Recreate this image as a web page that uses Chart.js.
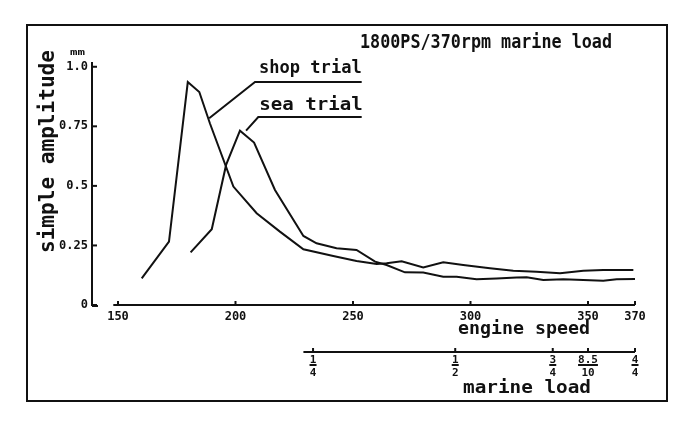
<!DOCTYPE html>
<html>
<head>
<meta charset="utf-8">
<title>1800PS/370rpm marine load</title>
<script src="https://cdn.jsdelivr.net/npm/chart.js@4.4.1/dist/chart.umd.min.js"></script>
<style>
  html, body { margin: 0; padding: 0; background: #fff; }
  #wrap { width: 689px; height: 427px; }
</style>
</head>
<body>
<div id="wrap"><canvas id="chart" width="689" height="427"></canvas></div>
<script>
const ink = '#111';
const mono = '"DejaVu Sans Mono", "Liberation Mono", monospace';

const speedTicks = [150, 200, 250, 300, 350, 370];
const ampTicks = [0, 0.25, 0.5, 0.75, 1.0];
const ampTickLabels = ['0', '0.25', '0.5', '0.75', '1.0'];

// marine load marks, placed on the engine speed scale
const loadTickSpeeds = [233, 293.5, 335, 350, 370];
const loadTickNum = ['1', '1', '3', '8.5', '4'];
const loadTickDen = ['4', '2', '4', '10', '4'];

const shopSpeed = [160.1, 171.7, 179.7, 184.6, 189.1, 199.1, 209.0, 218.9, 228.9, 241.6, 251.5, 260.1,
  264.3, 270.7, 279.9, 288.4, 296.9, 308.3, 318.2, 328.1, 338.1, 348.0, 356.5, 369.3];
const shopAmp = [0.112, 0.266, 0.936, 0.894, 0.763, 0.497, 0.385, 0.308, 0.234, 0.206, 0.185, 0.172,
  0.175, 0.184, 0.158, 0.179, 0.168, 0.154, 0.144, 0.140, 0.133, 0.144, 0.147, 0.147];

const seaSpeed = [180.9, 189.9, 196.0, 201.9, 207.9, 216.8, 228.9, 234.5, 243.0, 251.5, 259.4, 264.3, 272.1,
  279.9, 288.4, 294.1, 302.6, 311.1, 319.6, 323.9, 331.0, 339.5, 348.0, 356.5, 362.2, 370];
const seaAmp = [0.221, 0.318, 0.588, 0.732, 0.682, 0.483, 0.290, 0.259, 0.238, 0.231, 0.182, 0.168, 0.137,
  0.136, 0.119, 0.119, 0.108, 0.111, 0.115, 0.116, 0.105, 0.108, 0.105, 0.102, 0.108, 0.109];

// label leaders: curve -> corner -> end of underline
const shopLeaderSpeed = [188.8, 208.3, 253.7];
const shopLeaderAmp = [0.784, 0.936, 0.936];
const seaLeaderSpeed = [204.5, 209.7, 253.7];
const seaLeaderAmp = [0.732, 0.789, 0.789];

const toPoints = (xs, ys) => xs.map((x, i) => ({ x, y: ys[i] }));

const lineStyle = {
  borderColor: ink,
  borderWidth: 2,
  pointRadius: 0,
  tension: 0,
  fill: false
};

function fitText(ctx, text, x0, x1, base, size) {
  ctx.font = `bold ${size}px ${mono}`;
  const w = ctx.measureText(text).width;
  ctx.save();
  ctx.translate(x0, base);
  ctx.scale((x1 - x0) / w, 1);
  ctx.textAlign = 'left';
  ctx.textBaseline = 'alphabetic';
  ctx.fillText(text, 0, 0);
  ctx.restore();
}

function seg(ctx, x0, y0, x1, y1) {
  ctx.beginPath();
  ctx.moveTo(x0, y0);
  ctx.lineTo(x1, y1);
  ctx.stroke();
}

const paper = {
  id: 'paper',
  afterDraw(chart) {
    const { ctx, chartArea: area, scales: { x, y } } = chart;
    ctx.save();
    ctx.strokeStyle = ink;
    ctx.fillStyle = ink;
    ctx.lineWidth = 2;

    // frame
    ctx.strokeRect(27, 25, 640, 376);

    // amplitude axis
    const left = area.left;
    seg(ctx, left, y.getPixelForValue(1.02), left, area.bottom + 1);
    seg(ctx, left, area.bottom + 1, left + 6, area.bottom + 1);
    y.ticks.forEach(t => {
      const py = y.getPixelForValue(t.value);
      seg(ctx, left, py, left + 5, py);
    });

    // engine speed axis
    const base = area.bottom;
    seg(ctx, x.getPixelForValue(148), base, x.getPixelForValue(370), base);
    x.ticks.forEach(t => {
      const px = x.getPixelForValue(t.value);
      seg(ctx, px, base - 4, px, base);
    });

    // marine load axis
    const loadY = 352;
    seg(ctx, x.getPixelForValue(228.9), loadY, x.getPixelForValue(370), loadY);
    ctx.font = `bold 11px ${mono}`;
    ctx.textAlign = 'center';
    ctx.textBaseline = 'alphabetic';
    loadTickSpeeds.forEach((s, i) => {
      const px = x.getPixelForValue(s);
      seg(ctx, px, loadY - 4, px, loadY);
      ctx.fillText(loadTickNum[i], px, 363);
      ctx.fillText(loadTickDen[i], px, 376);
      const w = Math.max(ctx.measureText(loadTickNum[i]).width, 7);
      seg(ctx, px - w / 2, 365, px + w / 2, 365);
    });

    // texts
    fitText(ctx, '1800PS/370rpm marine load', 360, 612, 48, 19);
    const shopU = y.getPixelForValue(shopLeaderAmp[1]);
    const seaU = y.getPixelForValue(seaLeaderAmp[1]);
    fitText(ctx, 'shop trial', x.getPixelForValue(shopLeaderSpeed[1]) + 4, x.getPixelForValue(shopLeaderSpeed[2]), shopU - 9, 18);
    fitText(ctx, 'sea trial', x.getPixelForValue(seaLeaderSpeed[1]) + 1, x.getPixelForValue(seaLeaderSpeed[2]) + 1, seaU - 7, 18);
    fitText(ctx, 'engine speed', 458, 590, 334, 18);
    fitText(ctx, 'marine load', 463, 591, 393, 18);

    ctx.save();
    ctx.translate(54, 253);
    ctx.rotate(-Math.PI / 2);
    fitText(ctx, 'simple amplitude', 0, 203, 0, 21);
    ctx.restore();

    fitText(ctx, 'mm', 70, 85, 55, 9);

    ctx.restore();
  }
};

new Chart(document.getElementById('chart').getContext('2d'), {
  type: 'line',
  data: {
    datasets: [
      { label: 'shop trial', data: toPoints(shopSpeed, shopAmp), ...lineStyle },
      { label: 'sea trial', data: toPoints(seaSpeed, seaAmp), ...lineStyle },
      { label: 'shop leader', data: toPoints(shopLeaderSpeed, shopLeaderAmp), ...lineStyle },
      { label: 'sea leader', data: toPoints(seaLeaderSpeed, seaLeaderAmp), ...lineStyle }
    ]
  },
  options: {
    responsive: false,
    animation: false,
    devicePixelRatio: 1,
    layout: { padding: { left: 30, top: 62, right: 54, bottom: 0 } },
    scales: {
      x: {
        type: 'linear',
        min: 138.94,
        max: 370,
        afterBuildTicks: s => { s.ticks = speedTicks.map(v => ({ value: v })); },
        afterFit: s => { s.height = 122; },
        ticks: {
          autoSkip: false,
          maxRotation: 0,
          padding: 5,
          color: ink,
          font: { family: mono, size: 12, weight: 'bold' }
        },
        grid: { display: false, drawTicks: false },
        border: { display: false }
      },
      y: {
        min: 0,
        max: 1.02,
        afterBuildTicks: s => { s.ticks = ampTicks.map(v => ({ value: v })); },
        afterFit: s => { s.width = 62; },
        ticks: {
          padding: 4,
          color: ink,
          font: { family: mono, size: 12, weight: 'bold' },
          callback: v => ampTickLabels[ampTicks.indexOf(v)]
        },
        grid: { display: false, drawTicks: false },
        border: { display: false }
      }
    },
    plugins: {
      legend: { display: false },
      tooltip: { enabled: false }
    }
  },
  plugins: [paper]
});
</script>
</body>
</html>
